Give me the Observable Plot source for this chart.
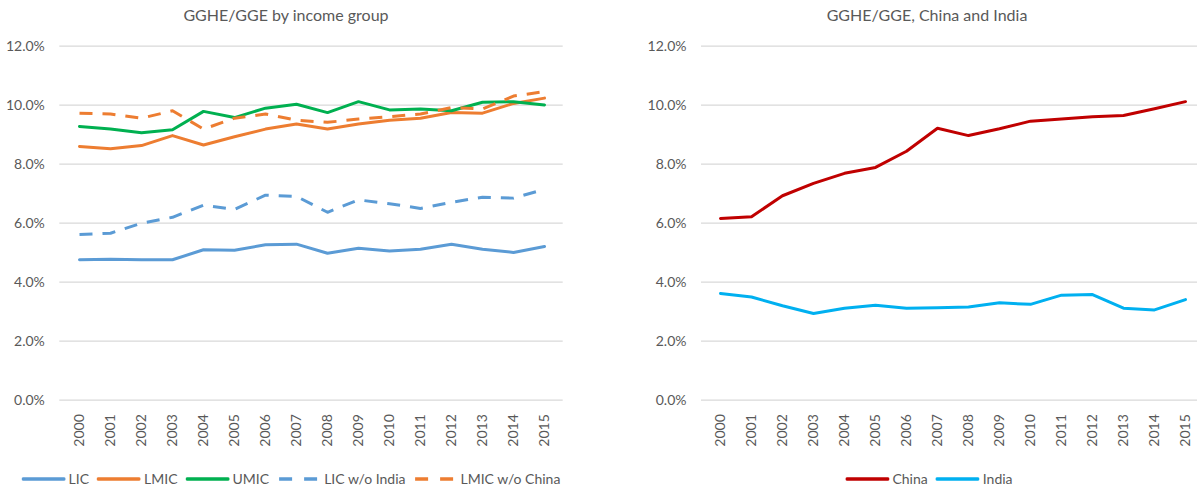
<!DOCTYPE html>
<html><head><meta charset="utf-8">
<script src="https://cdn.jsdelivr.net/npm/d3@7"></script>
<script src="https://cdn.jsdelivr.net/npm/@observablehq/plot@0.6"></script>
<style>
html,body{margin:0;padding:0;background:#fff;overflow:hidden;width:1197px;height:491px;}
#root{position:relative;width:1197px;height:491px;font-family:Lato,"Open Sans",sans-serif;color:#595959;}
.title{position:absolute;top:5px;font-size:16px;line-height:20px;white-space:nowrap;transform:translateX(-50%);}
.panel{position:absolute;top:30px;}
.legend{position:absolute;top:469px;height:20px;font-size:14px;line-height:20px;display:flex;align-items:center;white-space:nowrap;transform:translateX(-50%);}
.legend .item{display:flex;align-items:center;margin-right:8px;}
.legend .item:last-child{margin-right:0;}
.legend svg{display:block;margin-right:3px;}
</style></head><body><div id="root"></div>
<script>
// ---- data (percent of general government expenditure) ----
const years = [2000,2001,2002,2003,2004,2005,2006,2007,2008,2009,2010,2011,2012,2013,2014,2015];
const leftTitle = "GGHE/GGE by income group";
const rightTitle = "GGHE/GGE, China and India";
const leftSeries = ["LIC","LMIC","UMIC","LIC w/o India","LMIC w/o China"];
const rightSeries = ["China","India"];
const yTicks = [0,2,4,6,8,10,12];

const LIC           = [4.76,4.78,4.76,4.76,5.10,5.08,5.27,5.29,4.98,5.15,5.06,5.12,5.29,5.12,5.01,5.21];
const LMIC          = [8.60,8.52,8.63,8.97,8.65,8.93,9.19,9.36,9.19,9.36,9.49,9.56,9.75,9.73,10.06,10.24];
const UMIC          = [9.28,9.19,9.07,9.17,9.79,9.58,9.90,10.03,9.75,10.12,9.84,9.87,9.81,10.10,10.12,10.01];
const LIC_wo_India  = [5.62,5.66,6.00,6.20,6.61,6.47,6.95,6.91,6.37,6.79,6.66,6.50,6.71,6.88,6.85,7.15];
const LMIC_wo_China = [9.73,9.70,9.56,9.81,9.19,9.56,9.70,9.49,9.42,9.53,9.61,9.70,9.92,9.87,10.31,10.46];
const China         = [6.16,6.22,6.93,7.35,7.69,7.89,8.44,9.22,8.97,9.20,9.46,9.53,9.61,9.65,9.88,10.12];
const India         = [3.62,3.50,3.20,2.94,3.12,3.22,3.12,3.13,3.16,3.30,3.25,3.56,3.58,3.12,3.06,3.41];

const values = {
  "LIC": LIC, "LMIC": LMIC, "UMIC": UMIC,
  "LIC w/o India": LIC_wo_India, "LMIC w/o China": LMIC_wo_China,
  "China": China, "India": India
};

// ---- styles ----
const styles = {
  "LIC":            {color:"#5B9BD5", dash:null},
  "LMIC":           {color:"#ED7D31", dash:null},
  "UMIC":           {color:"#00B050", dash:null},
  "LIC w/o India":  {color:"#5B9BD5", dash:"13,10"},
  "LMIC w/o China": {color:"#ED7D31", dash:"13,10"},
  "China":          {color:"#C00000", dash:null},
  "India":          {color:"#00B0F0", dash:null}
};

const rows = (names) => names.flatMap(s => years.map((y,i) => ({series:s, year:y, value:values[s][i]})));

function panel(names, opts) {
  const data = rows(names);
  return Plot.plot({
    width: opts.width, height: 430,
    marginTop: 15.7, marginBottom: 60.3,
    marginLeft: opts.marginLeft, marginRight: opts.marginRight,
    style: {fontFamily: "Lato, 'Open Sans', sans-serif", fontSize: "14px", color: "#595959", background: "transparent", overflow: "visible"},
    x: {type: "point", domain: years, padding: 0.5, range: opts.xRange, label: null},
    y: {domain: [0, 12], label: null},
    marks: [
      Plot.gridY(yTicks, {stroke: "#d9d9d9", strokeOpacity: 1, strokeWidth: 1.2}),
      Plot.axisY(yTicks, {tickSize: 0, tickPadding: 15, tickFormat: d => d.toFixed(1) + "%", label: null}),
      Plot.axisX(years, {tickSize: 0, tickPadding: 14, tickRotate: -90, tickFormat: d => String(d), label: null}),
      ...names.map(s => Plot.line(data.filter(d => d.series === s), {
        x: "year", y: "value", stroke: styles[s].color, strokeWidth: 3,
        strokeDasharray: styles[s].dash, strokeLinejoin: "round", strokeLinecap: styles[s].dash ? "butt" : "round"
      }))
    ]
  });
}

function legend(names, center) {
  const div = document.createElement("div");
  div.className = "legend";
  div.style.left = center + "px";
  for (const s of names) {
    const item = document.createElement("div");
    item.className = "item";
    const st = styles[s];
    const svgNS = "http://www.w3.org/2000/svg";
    const svg = document.createElementNS(svgNS, "svg");
    svg.setAttribute("width", 44); svg.setAttribute("height", 10);
    const ln = document.createElementNS(svgNS, "line");
    ln.setAttribute("x1", 1.5); ln.setAttribute("x2", 42.5);
    ln.setAttribute("y1", 5); ln.setAttribute("y2", 5);
    ln.setAttribute("stroke", st.color); ln.setAttribute("stroke-width", 3.5);
    if (st.dash) { ln.setAttribute("stroke-dasharray", "13,12"); ln.setAttribute("stroke-linecap", "butt"); }
    else ln.setAttribute("stroke-linecap", "round");
    svg.appendChild(ln);
    item.appendChild(svg);
    const t = document.createElement("span");
    t.textContent = s;
    item.appendChild(t);
    div.appendChild(item);
  }
  return div;
}

const root = document.getElementById("root");

function addTitle(text, center) {
  const d = document.createElement("div");
  d.className = "title"; d.style.left = center + "px"; d.textContent = text;
  root.appendChild(d);
}

addTitle(leftTitle, 286);
addTitle(rightTitle, 927);

const left = panel(leftSeries, {width: 598, marginLeft: 59.3, marginRight: 35.3});
left.classList.add("panel"); left.style.left = "0px";
root.appendChild(left);

const right = panel(rightSeries, {width: 599, marginLeft: 103, marginRight: 0, xRange: [103, 606.4]});
right.classList.add("panel"); right.style.left = "598px";
root.appendChild(right);

root.appendChild(legend(leftSeries, 291));
root.appendChild(legend(rightSeries, 929));
</script>
</body></html>
